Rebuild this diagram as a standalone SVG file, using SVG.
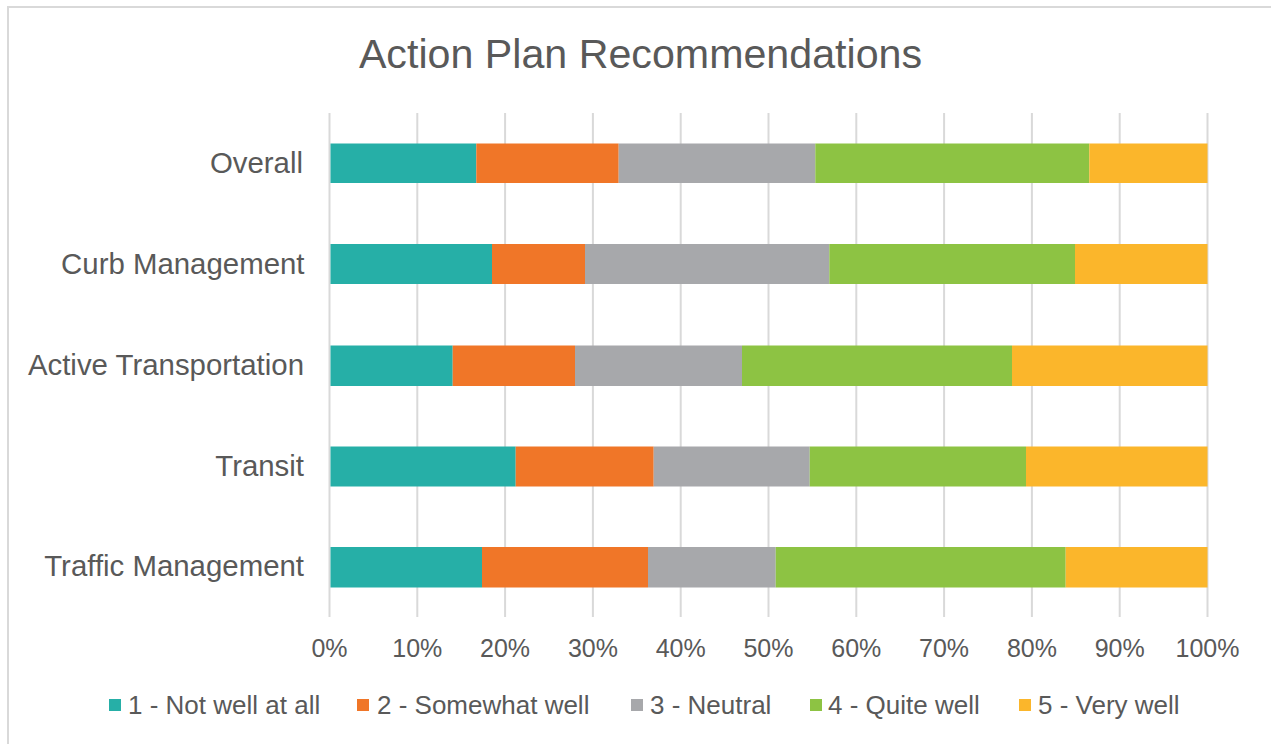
<svg xmlns="http://www.w3.org/2000/svg" width="1271" height="744" viewBox="0 0 1271 744">
  <style>
    .t { font-family: "Liberation Sans", Arial, sans-serif; fill: #595959; }
    .title { font-size: 41.2px; text-anchor: middle; }
    .cat { font-size: 29.4px; text-anchor: end; }
    .tick { font-size: 25px; text-anchor: middle; }
    .leg { font-size: 26px; }
    .grid { stroke: #D9D9D9; stroke-width: 2; }
    .c1 { fill: #26AFA7; }
    .c2 { fill: #F07628; }
    .c3 { fill: #A7A8AB; }
    .c4 { fill: #8DC343; }
    .c5 { fill: #FBB62B; }
  </style>
  <rect x="0" y="0" width="1271" height="744" fill="#FFFFFF"/>
  <rect x="8" y="7" width="1300" height="800" fill="none" stroke="#D9D9D9" stroke-width="2"/>

  <text id="title" class="t title" x="640.5" y="68">Action Plan Recommendations</text>

  <g id="gridlines" class="grid">
    <line x1="329.5" y1="113" x2="329.5" y2="617"/>
    <line x1="417.3" y1="113" x2="417.3" y2="617"/>
    <line x1="505.1" y1="113" x2="505.1" y2="617"/>
    <line x1="592.9" y1="113" x2="592.9" y2="617"/>
    <line x1="680.7" y1="113" x2="680.7" y2="617"/>
    <line x1="768.5" y1="113" x2="768.5" y2="617"/>
    <line x1="856.3" y1="113" x2="856.3" y2="617"/>
    <line x1="944.1" y1="113" x2="944.1" y2="617"/>
    <line x1="1031.9" y1="113" x2="1031.9" y2="617"/>
    <line x1="1119.7" y1="113" x2="1119.7" y2="617"/>
    <line x1="1207.5" y1="113" x2="1207.5" y2="617"/>
  </g>

  <g id="x-axis-labels" class="t tick">
    <text x="329.5" y="657">0%</text>
    <text x="417.3" y="657">10%</text>
    <text x="505.1" y="657">20%</text>
    <text x="592.9" y="657">30%</text>
    <text x="680.7" y="657">40%</text>
    <text x="768.5" y="657">50%</text>
    <text x="856.3" y="657">60%</text>
    <text x="944.1" y="657">70%</text>
    <text x="1031.9" y="657">80%</text>
    <text x="1119.7" y="657">90%</text>
    <text x="1207.5" y="657">100%</text>
  </g>

  <g id="bar-overall">
    <text class="t cat" x="303" y="173">Overall</text>
    <rect class="c1" x="330.5" y="143.5" width="145.8" height="39.5"/>
    <rect class="c2" x="476.3" y="143.5" width="142.4" height="39.5"/>
    <rect class="c3" x="618.7" y="143.5" width="196.6" height="39.5"/>
    <rect class="c4" x="815.3" y="143.5" width="274" height="39.5"/>
    <rect class="c5" x="1089.3" y="143.5" width="118.2" height="39.5"/>
  </g>

  <g id="bar-curb-management">
    <text class="t cat" x="304.5" y="273.5">Curb Management</text>
    <rect class="c1" x="330.5" y="244" width="161.5" height="40"/>
    <rect class="c2" x="492" y="244" width="93" height="40"/>
    <rect class="c3" x="585" y="244" width="244.3" height="40"/>
    <rect class="c4" x="829.3" y="244" width="245.7" height="40"/>
    <rect class="c5" x="1075" y="244" width="132.5" height="40"/>
  </g>

  <g id="bar-active-transportation">
    <text class="t cat" x="304" y="375">Active Transportation</text>
    <rect class="c1" x="330.5" y="345.5" width="122.2" height="40.5"/>
    <rect class="c2" x="452.7" y="345.5" width="122.3" height="40.5"/>
    <rect class="c3" x="575" y="345.5" width="167" height="40.5"/>
    <rect class="c4" x="742" y="345.5" width="270" height="40.5"/>
    <rect class="c5" x="1012" y="345.5" width="195.5" height="40.5"/>
  </g>

  <g id="bar-transit">
    <text class="t cat" x="304" y="476">Transit</text>
    <rect class="c1" x="330.5" y="446.5" width="185.2" height="40"/>
    <rect class="c2" x="515.7" y="446.5" width="138" height="40"/>
    <rect class="c3" x="653.7" y="446.5" width="156" height="40"/>
    <rect class="c4" x="809.7" y="446.5" width="216.3" height="40"/>
    <rect class="c5" x="1026" y="446.5" width="181.5" height="40"/>
  </g>

  <g id="bar-traffic-management">
    <text class="t cat" x="304" y="576">Traffic Management</text>
    <rect class="c1" x="330.5" y="547" width="151.5" height="40.5"/>
    <rect class="c2" x="482" y="547" width="166" height="40.5"/>
    <rect class="c3" x="648" y="547" width="127.7" height="40.5"/>
    <rect class="c4" x="775.7" y="547" width="290" height="40.5"/>
    <rect class="c5" x="1065.7" y="547" width="141.8" height="40.5"/>
  </g>

  <g id="legend">
    <rect class="c1" x="109" y="699" width="12" height="12"/>
    <text class="t leg" x="128" y="714">1 - Not well at all</text>
    <rect class="c2" x="357" y="699" width="12" height="12"/>
    <text class="t leg" x="377" y="714">2 - Somewhat well</text>
    <rect class="c3" x="631" y="699" width="12" height="12"/>
    <text class="t leg" x="650" y="714">3 - Neutral</text>
    <rect class="c4" x="810" y="699" width="12" height="12"/>
    <text class="t leg" x="828" y="714">4 - Quite well</text>
    <rect class="c5" x="1019" y="699" width="12" height="12"/>
    <text class="t leg" x="1038" y="714">5 - Very well</text>
  </g>
</svg>
